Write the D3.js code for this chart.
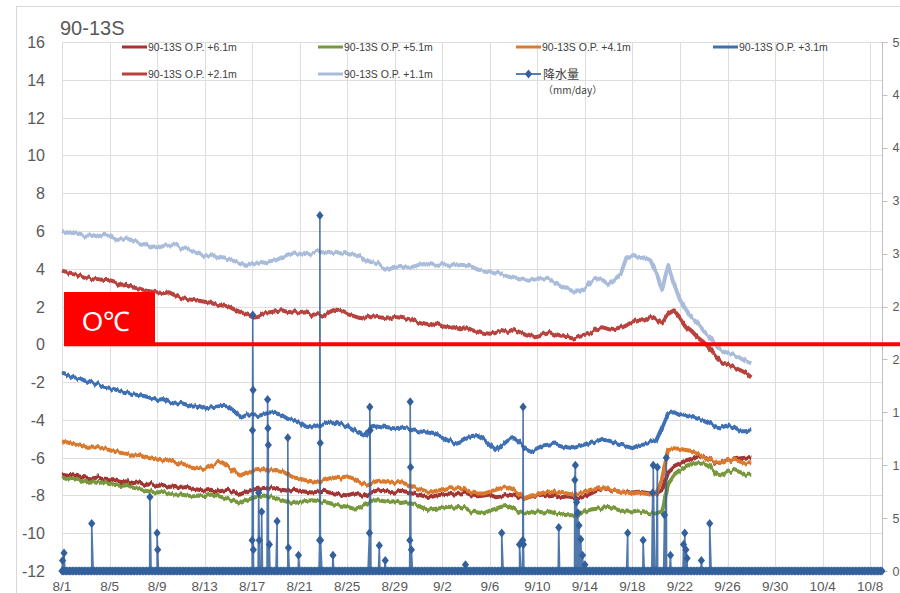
<!DOCTYPE html>
<html>
<head>
<meta charset="utf-8">
<script src="https://cdn.jsdelivr.net/npm/d3@7"></script>
<style>
  body { margin: 0; background: #fff; }
  svg { display: block; font-family: "Liberation Sans", Arial, sans-serif; }
</style>
</head>
<body>
<svg id="chart"></svg>
<script>
// axis ranges / tick labels
const startDate = "8/1", endDate = "10/9";
const xTickLabels = ["8/1","8/5","8/9","8/13","8/17","8/21","8/25","8/29","9/2","9/6","9/10","9/14","9/18","9/22","9/26","9/30","10/4","10/8"];
const yLeftTicks = [-12,-10,-8,-6,-4,-2,0,2,4,6,8,10,12,14,16];
const yRightTicks = [0,5,10,15,20,25,30,35,40,45,50];

// temperature readings, every 12 hours from 8/1 (deg C)
const op61 = [
  -6.85,-6.9,-6.95,-7.0,-7.05,-7.1,-7.05,-7.15,-7.2,-7.2,
  -7.3,-7.25,-7.35,-7.3,-7.45,-7.4,-7.5,-7.45,-7.55,-7.5,
  -7.6,-7.55,-7.65,-7.7,-7.75,-7.7,-7.8,-7.75,-7.7,-7.85,
  -7.95,-7.8,-7.7,-7.65,-7.6,-7.65,-7.6,-7.7,-7.75,-7.7,
  -7.75,-7.8,-7.85,-7.8,-7.75,-7.85,-7.9,-7.95,-8.0,-7.9,
  -7.95,-8.05,-7.85,-7.75,-7.7,-7.8,-7.85,-7.75,-7.8,-7.9,
  -7.95,-8.05,-8.1,-8.0,-7.95,-7.9,-7.95,-7.9,-7.85,-8.0,
  -8.05,-8.0,-7.95,-8.1,-8.05,-7.95,-8.0,-8.1,-8.15,-8.05,
  -8.0,-7.95,-8.05,-8.0,-8.1,-8.05,-8.1,-8.15,-8.05,-7.9,
  -7.75,-7.6,-7.7,-7.75,-7.8,-7.8,-7.85,-7.8,-7.85,-7.9,
  -7.9,-7.7,-6.8,-6.5,-6.35,-6.2,-6.1,-5.95,-5.9,-6.1,
  -6.3,-6.25,-6.15,-6.1,-6.05,-6.0,-6.05
];
const op51 = [
  -7.0,-7.1,-7.15,-7.2,-7.3,-7.25,-7.35,-7.3,-7.4,-7.45,
  -7.5,-7.45,-7.6,-7.65,-7.75,-7.8,-7.85,-7.8,-7.9,-7.95,
  -7.95,-8.0,-8.05,-8.0,-8.05,-7.95,-8.0,-8.1,-8.2,-8.3,
  -8.4,-8.25,-8.15,-8.05,-8.0,-8.1,-8.15,-8.25,-8.35,-8.4,
  -8.35,-8.3,-8.25,-8.3,-8.35,-8.4,-8.5,-8.55,-8.6,-8.7,
  -8.65,-8.5,-8.3,-8.25,-8.3,-8.35,-8.3,-8.4,-8.35,-8.45,
  -8.55,-8.7,-8.75,-8.7,-8.65,-8.6,-8.65,-8.6,-8.7,-8.85,
  -8.9,-8.95,-8.8,-8.7,-8.6,-8.55,-8.7,-8.9,-8.95,-8.9,
  -8.85,-8.9,-8.85,-8.95,-9.0,-9.05,-9.05,-9.0,-8.85,-8.75,
  -8.7,-8.65,-8.6,-8.7,-8.8,-8.85,-8.9,-8.85,-8.9,-8.95,
  -8.95,-8.85,-7.4,-6.95,-6.7,-6.5,-6.35,-6.3,-6.25,-6.45,
  -6.85,-6.95,-6.75,-6.65,-6.75,-6.9,-6.9
];
const op41 = [
  -5.15,-5.2,-5.3,-5.35,-5.45,-5.4,-5.5,-5.55,-5.6,-5.7,
  -5.75,-5.8,-5.9,-5.85,-6.0,-6.05,-6.1,-6.15,-6.1,-6.25,
  -6.35,-6.45,-6.5,-6.55,-6.6,-6.45,-6.3,-6.25,-6.5,-6.75,
  -6.95,-6.8,-6.7,-6.65,-6.6,-6.7,-6.65,-6.7,-6.9,-7.05,
  -7.1,-7.2,-7.25,-7.3,-7.2,-7.1,-7.0,-7.05,-7.0,-7.1,
  -7.3,-7.45,-7.35,-7.25,-7.2,-7.25,-7.3,-7.3,-7.4,-7.55,
  -7.65,-7.75,-7.85,-7.75,-7.7,-7.6,-7.65,-7.6,-7.7,-7.85,
  -7.9,-7.9,-7.8,-7.7,-7.6,-7.55,-7.7,-7.95,-8.15,-8.0,
  -7.95,-7.85,-7.8,-7.85,-7.8,-7.9,-7.95,-7.9,-7.8,-7.7,
  -7.65,-7.6,-7.65,-7.75,-7.8,-7.85,-7.9,-7.85,-7.9,-7.95,
  -7.9,-7.1,-5.6,-5.55,-5.6,-5.65,-5.7,-5.8,-5.95,-6.1,
  -6.25,-6.3,-6.15,-6.1,-6.2,-6.3,-6.3
];
const op31 = [
  -1.5,-1.6,-1.75,-1.8,-1.95,-2.05,-2.1,-2.25,-2.3,-2.4,
  -2.5,-2.55,-2.65,-2.7,-2.75,-2.85,-2.95,-2.9,-3.05,-3.15,
  -3.1,-3.2,-3.3,-3.25,-3.4,-3.35,-3.3,-3.25,-3.3,-3.55,
  -3.85,-3.7,-3.75,-3.8,-3.7,-3.6,-3.65,-3.75,-3.95,-4.0,
  -4.1,-4.35,-4.4,-4.3,-4.25,-4.15,-4.1,-4.2,-4.3,-4.5,
  -4.7,-4.85,-4.35,-4.3,-4.35,-4.4,-4.45,-4.4,-4.45,-4.55,
  -4.6,-4.65,-4.7,-4.8,-4.9,-5.1,-5.3,-5.2,-5.0,-4.85,
  -4.8,-5.0,-5.3,-5.6,-5.3,-5.05,-4.95,-5.2,-5.5,-5.65,
  -5.5,-5.35,-5.3,-5.25,-5.35,-5.45,-5.5,-5.4,-5.3,-5.15,
  -5.2,-5.05,-5.1,-5.2,-5.3,-5.4,-5.5,-5.35,-5.3,-5.2,
  -5.1,-4.4,-3.65,-3.6,-3.75,-3.8,-3.85,-3.95,-4.0,-4.15,
  -4.35,-4.4,-4.3,-4.4,-4.6,-4.6,-4.55
];
const op21 = [
  3.85,3.75,3.7,3.65,3.55,3.5,3.45,3.4,3.4,3.3,
  3.1,3.15,3.0,2.95,2.85,2.8,2.75,2.7,2.75,2.6,
  2.45,2.4,2.35,2.3,2.25,2.2,2.1,2.05,2.0,1.85,
  1.7,1.6,1.45,1.5,1.65,1.7,1.75,1.8,1.7,1.75,
  1.65,1.7,1.55,1.6,1.5,1.7,1.85,1.75,1.6,1.5,
  1.4,1.35,1.5,1.45,1.4,1.35,1.45,1.4,1.35,1.3,
  1.15,1.05,1.0,1.1,0.95,0.9,0.95,0.85,0.9,0.75,
  0.65,0.55,0.5,0.6,0.7,0.6,0.75,0.65,0.5,0.4,
  0.45,0.55,0.65,0.5,0.4,0.45,0.35,0.45,0.5,0.6,
  0.85,0.9,0.8,0.75,0.85,1.0,1.2,1.3,1.25,1.45,
  1.3,1.1,1.6,1.8,1.4,0.95,0.7,0.35,0.1,-0.2,
  -0.6,-0.95,-1.05,-1.2,-1.35,-1.5,-1.75
];
const op11 = [
  5.95,5.85,5.9,5.8,5.75,5.8,5.7,5.8,5.72,5.6,
  5.55,5.6,5.45,5.35,5.3,5.1,5.15,5.25,5.2,5.3,
  5.1,5.05,4.95,4.85,4.7,4.75,4.6,4.55,4.5,4.4,
  4.3,4.15,4.25,4.2,4.3,4.4,4.45,4.6,4.75,4.8,
  4.75,4.85,4.8,4.9,4.8,4.85,4.9,4.8,4.85,4.75,
  4.7,4.5,4.35,4.3,4.05,3.95,4.1,4.15,4.05,4.1,
  4.2,4.25,4.3,4.2,4.25,4.15,4.25,4.2,4.2,4.1,
  3.95,3.9,3.85,3.8,3.75,3.65,3.55,3.5,3.45,3.4,
  3.45,3.5,3.45,3.3,3.1,2.95,2.8,2.8,2.95,3.3,
  3.5,3.4,3.15,3.45,3.7,4.6,4.7,4.55,4.6,4.45,
  3.8,2.9,4.2,3.2,2.35,1.85,1.4,1.1,0.7,0.4,
  0.0,-0.3,-0.45,-0.55,-0.7,-0.9,-1.0
];

// rainfall events: days after 8/1 and mm/day (all other hours are 0)
const rainDays = [0.05,0.17,2.5,7.4,8.0,8.05,16.0,16.03,16.05,16.08,16.1,16.55,16.6,16.8,
  17.3,17.33,17.36,17.45,18.1,19.0,19.05,19.9,21.68,21.7,21.73,21.76,22.8,25.87,25.9,25.93,
  26.7,27.2,29.27,29.3,29.33,29.4,33.95,37.0,38.5,38.77,38.8,38.83,41.8,43.15,43.2,43.3,
  43.4,43.5,43.65,43.8,44.0,47.6,48.9,49.7,49.75,50.1,50.7,50.85,51.2,52.3,52.4,52.5,52.6,
  53.8,54.5];
const rainValues = [1.0,1.7,4.5,7.0,3.6,2.0,2.9,13.3,24.2,17.1,2.0,7.4,2.9,5.6,
  16.2,13.5,11.9,2.5,4.7,12.6,2.2,1.5,2.9,33.6,12.1,2.9,1.5,3.6,15.5,13.3,
  2.4,1.0,2.9,16.0,9.8,2.0,0.6,3.6,2.5,2.9,15.5,2.5,4.1,8.6,10.0,6.5,
  5.5,4.3,3.0,1.5,0.6,3.6,2.9,7.4,10.0,9.8,5.3,10.7,1.5,2.5,3.6,2.0,1.2,
  1.0,4.5];

const seriesNames = ["90-13S O.P. +6.1m","90-13S O.P. +5.1m","90-13S O.P. +4.1m","90-13S O.P. +3.1m","90-13S O.P. +2.1m","90-13S O.P. +1.1m"];
const seriesData = [op61, op51, op41, op31, op21, op11];
const seriesColors = ["#A33432", "#77983C", "#DA7A2E", "#3F70B4", "#B8433E", "#A9BDDA"];
const rainColor = "#33609C";

const width = 900, height = 593;
const plot = { left: 62, right: 882, top: 42, bottom: 571 };
const gridColor = "#dedede", textColor = "#595959";

const svg = d3.select("#chart").attr("width", width).attr("height", height);

// logger noise look: fixed turbulence moving the temperature lines up and down
const filter = svg.append("defs").append("filter")
   .attr("id", "jitter")
   .attr("filterUnits", "userSpaceOnUse")
   .attr("x", 0).attr("y", 0).attr("width", width).attr("height", height);
filter.append("feTurbulence")
   .attr("type", "fractalNoise")
   .attr("baseFrequency", "0.3 0.01")
   .attr("numOctaves", 2)
   .attr("seed", 7)
   .attr("result", "noise");
filter.append("feColorMatrix")
   .attr("in", "noise")
   .attr("type", "matrix")
   .attr("values", "1 0 0 0 0  0 1 0 0 0  0 0 0 0 0.5  0 0 0 0 1")
   .attr("result", "shift");
filter.append("feDisplacementMap")
   .attr("in", "SourceGraphic")
   .attr("in2", "shift")
   .attr("scale", 6)
   .attr("xChannelSelector", "B")
   .attr("yChannelSelector", "R");

const parseDay = s => d3.timeParse("%Y/%m/%d")("2016/" + s);
const t0 = parseDay(startDate);

const x = d3.scaleTime().domain([t0, parseDay(endDate)]).range([plot.left, plot.right]);
const yL = d3.scaleLinear().domain([-12, 16]).range([plot.bottom, plot.top]);
const yR = d3.scaleLinear().domain([0, 50]).range([plot.bottom, plot.top]);

// chart area outline
svg.append("rect")
   .attr("x", 16.5).attr("y", 6.5)
   .attr("width", 900).attr("height", 600)
   .attr("fill", "none").attr("stroke", "#d9d9d9");

// title
svg.append("text")
   .attr("x", 60).attr("y", 35)
   .attr("fill", textColor)
   .style("font-size", "20px")
   .text("90-13S");

// gridlines
svg.append("g").selectAll("line")
   .data(yLeftTicks)
   .enter().append("line")
   .attr("x1", plot.left).attr("x2", plot.right)
   .attr("y1", d => Math.round(yL(d)) + 0.5).attr("y2", d => Math.round(yL(d)) + 0.5)
   .attr("stroke", gridColor);

svg.append("g").selectAll("line")
   .data(xTickLabels)
   .enter().append("line")
   .attr("x1", d => Math.round(x(parseDay(d))) + 0.5).attr("x2", d => Math.round(x(parseDay(d))) + 0.5)
   .attr("y1", plot.top).attr("y2", plot.bottom)
   .attr("stroke", gridColor);

// left axis labels
svg.append("g").selectAll("text")
   .data(yLeftTicks)
   .enter().append("text")
   .attr("x", 45).attr("y", d => yL(d) + 6)
   .attr("text-anchor", "end")
   .attr("fill", textColor)
   .style("font-size", "16px")
   .text(d => d);

// bottom axis labels
svg.append("g").selectAll("text")
   .data(xTickLabels)
   .enter().append("text")
   .attr("x", d => x(parseDay(d))).attr("y", 591)
   .attr("text-anchor", "middle")
   .attr("fill", textColor)
   .style("font-size", "13.5px")
   .text(d => d);

// right axis (labels run off the edge, as in the original)
const rightAxis = svg.append("g").attr("transform", `translate(${plot.right + 0.5},0)`);
rightAxis.append("line")
   .attr("y1", plot.top).attr("y2", plot.bottom)
   .attr("stroke", "#bfbfbf");
rightAxis.selectAll(".tick")
   .data(yRightTicks)
   .enter().append("line")
   .attr("x1", 0).attr("x2", 5)
   .attr("y1", d => Math.round(yR(d)) + 0.5).attr("y2", d => Math.round(yR(d)) + 0.5)
   .attr("stroke", "#bfbfbf");
rightAxis.selectAll("text")
   .data(yRightTicks)
   .enter().append("text")
   .attr("x", 10).attr("y", d => yR(d) + 4.5)
   .attr("fill", textColor)
   .style("font-size", "12.5px")
   .text(d => d);

// temperature lines
const tempLine = d3.line()
   .x((d, i) => x(d3.timeHour.offset(t0, i * 12)))
   .y(d => yL(d));

svg.append("g")
   .attr("filter", "url(#jitter)")
   .selectAll("path")
   .data(seriesData)
   .enter().append("path")
   .attr("d", d => tempLine(d))
   .attr("fill", "none")
   .attr("stroke", (d, i) => seriesColors[i])
   .attr("stroke-width", 4)
   .attr("stroke-linejoin", "round");

// rainfall series: zero every 3 hours plus the rain events
const tEnd = parseDay(endDate);
const rain = d3.timeHour.every(3).range(t0, d3.timeHour.offset(tEnd, 1))
   .map(t => ({ t: t, v: 0 }))
   .concat(rainDays.map((d, i) => ({ t: d3.timeMinute.offset(t0, Math.round(d * 1440)), v: rainValues[i] })))
   .sort((a, b) => a.t - b.t);

svg.append("path")
   .datum(rain)
   .attr("d", d3.line().x(d => x(d.t)).y(d => yR(d.v)))
   .attr("fill", "none")
   .attr("stroke", rainColor)
   .attr("stroke-opacity", 0.85)
   .attr("stroke-width", 1.6);

const diamond = "M0,-4.5L3.6,0L0,4.5L-3.6,0Z";
svg.append("g").selectAll("path")
   .data(rain)
   .enter().append("path")
   .attr("d", diamond)
   .attr("transform", d => `translate(${x(d.t)},${yR(d.v)})`)
   .attr("fill", rainColor);

// legend
const legendCols = [122, 318, 516, 713], legendRows = [47, 74];
seriesNames.forEach((name, i) => {
    const lx = legendCols[i % 4], ly = legendRows[Math.floor(i / 4)];
    svg.append("line")
       .attr("x1", lx).attr("x2", lx + 25)
       .attr("y1", ly).attr("y2", ly)
       .attr("stroke", seriesColors[i]).attr("stroke-width", 3);
    svg.append("text")
       .attr("x", lx + 26).attr("y", ly + 4)
       .attr("fill", "#404040")
       .style("font-size", "10.5px")
       .text(name);
});

const rlx = legendCols[2], rly = legendRows[1];
svg.append("line")
   .attr("x1", rlx).attr("x2", rlx + 25)
   .attr("y1", rly).attr("y2", rly)
   .attr("stroke", rainColor).attr("stroke-width", 1.6);
svg.append("path")
   .attr("d", diamond)
   .attr("transform", `translate(${rlx + 12.5},${rly})`)
   .attr("fill", rainColor);
svg.append("text")
   .attr("x", rlx + 27).attr("y", rly + 4.5)
   .attr("fill", "#404040")
   .style("font-size", "12px")
   .style("font-family", "'Noto Sans CJK JP', sans-serif")
   .text("降水量");
svg.append("text")
   .attr("x", rlx + 27).attr("y", rly + 20)
   .attr("fill", "#404040")
   .style("font-size", "10px")
   .style("font-family", "'Noto Sans CJK JP', sans-serif")
   .text("（mm/day）");

// 0 deg C annotation
svg.append("line")
   .attr("x1", 155).attr("x2", width)
   .attr("y1", yL(0)).attr("y2", yL(0))
   .attr("stroke", "#FF0000").attr("stroke-width", 4);
svg.append("rect")
   .attr("x", plot.left + 2).attr("y", 292)
   .attr("width", 91).attr("height", yL(0) + 2 - 292)
   .attr("fill", "#FF0000");
svg.append("text")
   .attr("x", 106).attr("y", 331)
   .attr("text-anchor", "middle")
   .attr("fill", "#fff")
   .style("font-size", "27px")
   .text("O℃");
</script>
</body>
</html>
